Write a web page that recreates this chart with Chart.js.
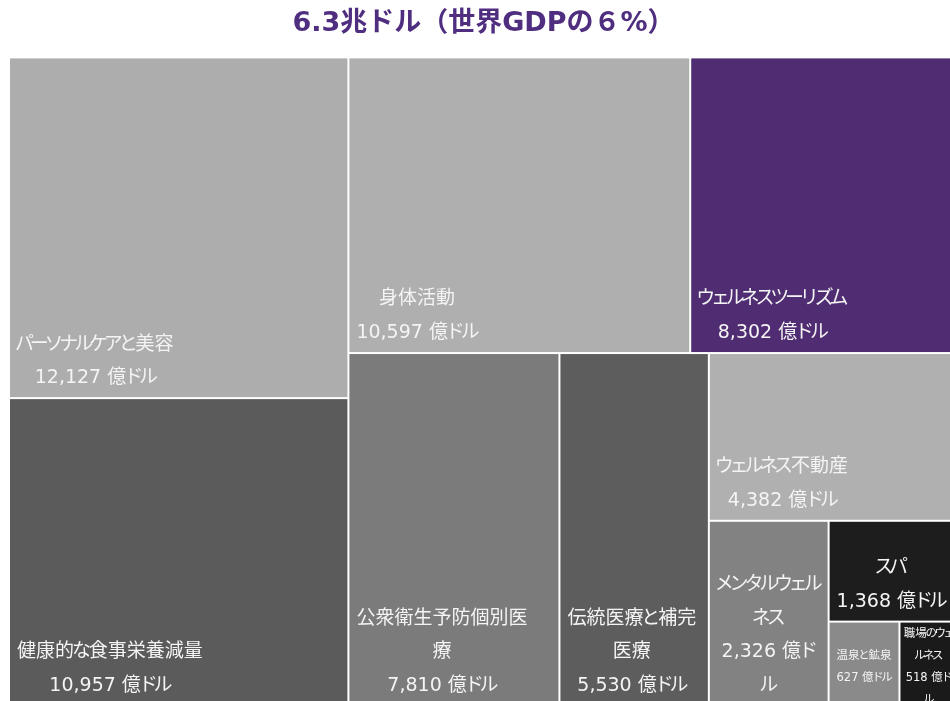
<!DOCTYPE html>
<html lang="ja">
<head>
<meta charset="utf-8">
<title>ウェルネス経済 6.3兆ドル</title>
<script src="https://cdn.jsdelivr.net/npm/chart.js@4.4.1/dist/chart.umd.min.js"></script>
<style>
    html, body { margin: 0; padding: 0; background: #fff; overflow: hidden; width: 950px; height: 701px; }
    /* ツリーマップは右端・下端で少し切れている */
    #wrap { position: absolute; left: 0; top: 0; width: 958px; height: 706px; }
</style>
</head>
<body>
<div id="wrap"><canvas id="treemap"></canvas></div>
<script>
// 分野名と市場規模（億ドル）
const categories = [
    'パーソナルケアと美容',
    '健康的な食事栄養減量',
    '身体活動',
    'ウェルネスツーリズム',
    '公衆衛生予防個別医療',
    '伝統医療と補完医療',
    'ウェルネス不動産',
    'メンタルウェルネス',
    'スパ',
    '温泉と鉱泉',
    '職場のウェルネス'
];
const values = [12127, 10957, 10597, 8302, 7810, 5530, 4382, 2326, 1368, 627, 518];
const unitLabel = '億ドル';
const titleText = '6.3兆ドル（世界GDPの６%）';

// 分野ごとの色
const cellColors = [
    '#adadad', '#5b5b5b', '#afafaf', '#502d73', '#7b7b7b', '#5d5d5d',
    '#b0b0b0', '#828282', '#1d1d1d', '#8a8a8a', '#1a1a1a'
];

const fontStack = '"DejaVu Sans", "Noto Sans CJK JP", sans-serif';

// 分割の構成 ('h' = 横に並べる, 'v' = 縦に積む)、数字は categories の番号
const layoutTree = {
    dir: 'h', children: [
        { dir: 'v', children: [0, 1] },
        { dir: 'v', children: [
            { dir: 'h', children: [2, 3] },
            { dir: 'h', children: [4, 5,
                { dir: 'v', children: [6,
                    { dir: 'h', children: [7,
                        { dir: 'v', children: [8, { dir: 'h', children: [9, 10] }] }
                    ] }
                ] }
            ] }
        ] }
    ]
};

function sumNode(node) {
    if (typeof node === 'number') return values[node];
    return node.children.reduce(function(s, c) { return s + sumNode(c); }, 0);
}

// 値に比例して 0..1 の範囲を分割する
function layoutNode(node, x0, y0, x1, y1, out) {
    if (typeof node === 'number') {
        out.push({ x: (x0 + x1) / 2, y: (y0 + y1) / 2, idx: node, x0: x0, y0: y0, x1: x1, y1: y1 });
        return;
    }
    const total = sumNode(node);
    let pos = node.dir === 'h' ? x0 : y0;
    node.children.forEach(function(c) {
        const f = sumNode(c) / total;
        if (node.dir === 'h') {
            const nx = pos + (x1 - x0) * f;
            layoutNode(c, pos, y0, nx, y1, out);
            pos = nx;
        } else {
            const ny = pos + (y1 - y0) * f;
            layoutNode(c, x0, pos, x1, ny, out);
            pos = ny;
        }
    });
}

const cells = [];
layoutNode(layoutTree, 0, 0, 1, 1, cells);

function formatValue(v) {
    return v.toLocaleString('en-US') + ' ' + unitLabel;
}

// かなは詰めて描く（元図のプロポーショナルかなに近づける）
const KANA = /[\u3040-\u30ff]/;
const KANA_RATIO = 0.78;

function charWidth(ctx, ch) {
    const w = ctx.measureText(ch).width;
    return KANA.test(ch) ? w * KANA_RATIO : w;
}

function textWidth(ctx, text) {
    let w = 0;
    for (const ch of text) w += charWidth(ctx, ch);
    return w;
}

function drawLine(ctx, text, cx, y) {
    let x = cx - textWidth(ctx, text) / 2;
    for (const ch of text) {
        const full = ctx.measureText(ch).width;
        const adv = charWidth(ctx, ch);
        ctx.fillText(ch, x - (full - adv) / 2, y);
        x += adv;
    }
}

// 文字単位の折り返し（小書き文字・長音は行頭に置かない）
function wrapText(ctx, text, maxW) {
    const lines = [];
    let line = '';
    for (const ch of text) {
        const test = line + ch;
        if (line && textWidth(ctx, test) > maxW) {
            if ('ァィゥェォッャュョー'.includes(ch) && line.length > 1) {
                lines.push(line.slice(0, -1));
                line = line.slice(-1) + ch;
            } else {
                lines.push(line);
                line = ch === ' ' ? '' : ch;
            }
        } else {
            line = test;
        }
    }
    if (line) lines.push(line);
    return lines;
}

const treemapPlugin = {
    id: 'treemapCells',
    afterDatasetsDraw: function(chart) {
        const ctx = chart.ctx;
        const xs = chart.scales.x;
        const ys = chart.scales.y;
        chart.data.datasets[0].data.forEach(function(c) {
            const left = xs.getPixelForValue(c.x0) + 1;
            const right = xs.getPixelForValue(c.x1) - 1;
            const top = ys.getPixelForValue(c.y0) + 1;
            const bottom = ys.getPixelForValue(c.y1) - 1;
            const w = right - left;
            const h = bottom - top;

            ctx.save();
            ctx.fillStyle = cellColors[c.idx];
            ctx.fillRect(left, top, w, h);

            ctx.beginPath();
            ctx.rect(left, top, w, h);
            ctx.clip();

            const small = w < 90;
            const fs = small ? 11.5 : 19;
            ctx.font = fs + 'px ' + fontStack;
            const maxW = w * 0.905;
            const lines = wrapText(ctx, categories[c.idx], maxW).concat(wrapText(ctx, formatValue(values[c.idx]), maxW));
            let blockW = 0;
            lines.forEach(function(l) { blockW = Math.max(blockW, textWidth(ctx, l)); });
            const lh = small ? 22 : 33.5;
            let cx, lastY;
            if (small) {
                // 小さいセルは中央寄せ
                cx = left + w / 2;
                lastY = top + h / 2 + 3 + (lines.length - 1) * lh / 2;
            } else {
                cx = left + 7 + blockW / 2;
                lastY = bottom - 19;
            }

            ctx.fillStyle = '#f4f4f4';
            ctx.textAlign = 'left';
            ctx.textBaseline = 'middle';
            lines.forEach(function(l, i) {
                drawLine(ctx, l, cx, lastY - (lines.length - 1 - i) * lh);
            });
            ctx.restore();
        });
    }
};

new Chart(document.getElementById('treemap'), {
    type: 'scatter',
    data: {
        datasets: [{
            label: 'ウェルネス経済',
            data: cells,
            pointRadius: 0,
            pointHoverRadius: 0
        }]
    },
    options: {
        responsive: true,
        maintainAspectRatio: false,
        animation: false,
        layout: { padding: { left: 9, top: 1, right: 0, bottom: 0 } },
        scales: {
            x: { type: 'linear', min: 0, max: 1, display: false },
            y: { type: 'linear', min: 0, max: 1, reverse: true, display: false }
        },
        plugins: {
            legend: { display: false },
            tooltip: { enabled: false },
            title: {
                display: true,
                text: titleText,
                color: '#4f2d7f',
                font: { family: fontStack, size: 27, weight: 'bold' },
                padding: { top: 7, bottom: 17 }
            }
        }
    },
    plugins: [treemapPlugin]
});
</script>
</body>
</html>
